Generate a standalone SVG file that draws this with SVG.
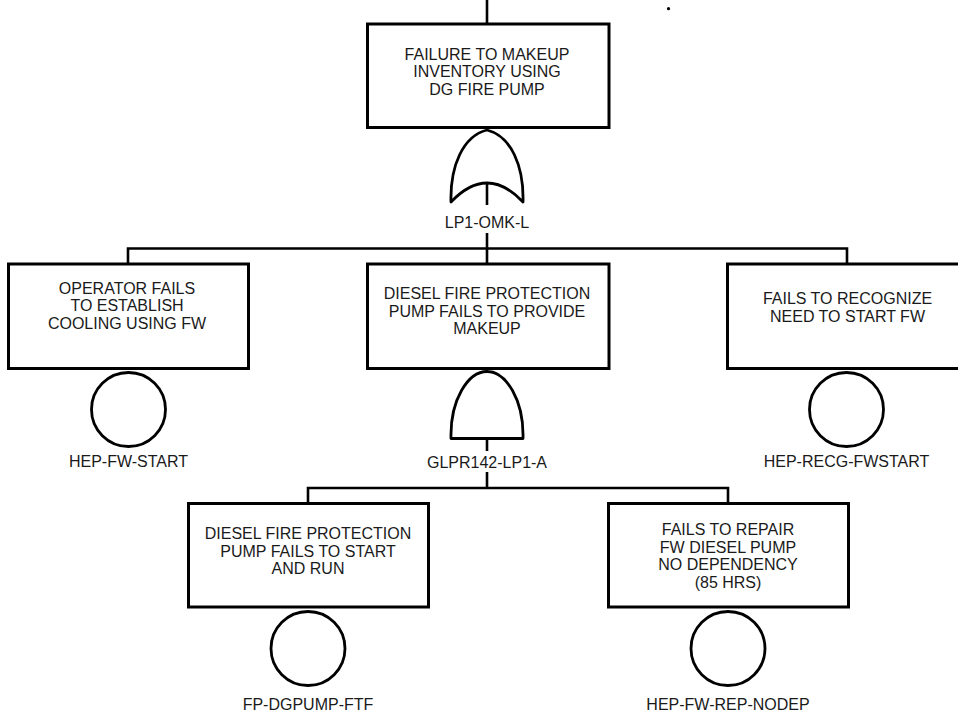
<svg xmlns="http://www.w3.org/2000/svg" width="958" height="712" viewBox="0 0 958 712">
<style>
.box{fill:#fff;stroke:#000;stroke-width:3}
.gate{fill:#fff;stroke:#000;stroke-width:2.8;stroke-linejoin:round}
.ev{fill:#fff;stroke:#000;stroke-width:2.8}
.wire{fill:none;stroke:#000;stroke-width:2.6}
text{font-family:"Liberation Sans",Arial,sans-serif;font-size:16px;fill:#1a1a1a;text-anchor:middle}
</style>
<rect width="958" height="712" fill="#fff"/>
<g id="connectors">
<line class="wire" x1="487" y1="0" x2="487" y2="24"/>
<line class="wire" x1="487" y1="184" x2="487" y2="205"/>
<line class="wire" x1="487" y1="233" x2="487" y2="264"/>
<polyline class="wire" points="128,264 128,248.5 847,248.5 847,264"/>
<line class="wire" x1="487" y1="438" x2="487" y2="451"/>
<line class="wire" x1="487" y1="472" x2="487" y2="488"/>
<polyline class="wire" points="308,503 308,488 728,488 728,503"/>
</g>
<g id="top">
<rect class="box" x="367.5" y="24" width="241.5" height="103.5"/>
<text x="487" y="59.5">FAILURE TO MAKEUP</text>
<text x="487" y="77">INVENTORY USING</text>
<text x="487" y="94.5">DG FIRE PUMP</text>
</g>
<g id="gate-or">
<path class="gate" d="M487,130 C463,136 450,166 451,202 Q487,164 523,202 C524,166 511,136 487,130 Z"/>
<text x="487" y="227.5">LP1-OMK-L</text>
</g>
<g id="left">
<rect class="box" x="8.5" y="264" width="240" height="104.5"/>
<text x="127" y="293.5">OPERATOR FAILS</text>
<text x="127" y="311">TO ESTABLISH</text>
<text x="127" y="328.5">COOLING USING FW</text>
<circle class="ev" cx="128.5" cy="409.5" r="37"/>
<text x="128.5" y="466.5">HEP-FW-START</text>
</g>
<g id="middle">
<rect class="box" x="367.5" y="264" width="241.5" height="104.5"/>
<text x="487" y="299">DIESEL FIRE PROTECTION</text>
<text x="487" y="316.5">PUMP FAILS TO PROVIDE</text>
<text x="487" y="334">MAKEUP</text>
</g>
<g id="gate-and">
<path class="gate" d="M451,438.5 C450,400 468,371.5 487,371.5 C506,371.5 524,400 523,438.5 Z"/>
<text x="487" y="467.5">GLPR142-LP1-A</text>
</g>
<g id="right">
<rect class="box" x="727.5" y="264" width="241" height="104.5"/>
<text x="847.5" y="304">FAILS TO RECOGNIZE</text>
<text x="847.5" y="321.5">NEED TO START FW</text>
<circle class="ev" cx="846.5" cy="409.5" r="37"/>
<text x="846.5" y="466.5">HEP-RECG-FWSTART</text>
</g>
<g id="bottom-left">
<rect class="box" x="188.5" y="503.5" width="240" height="103.5"/>
<text x="308" y="539">DIESEL FIRE PROTECTION</text>
<text x="308" y="556.5">PUMP FAILS TO START</text>
<text x="308" y="574">AND RUN</text>
<circle class="ev" cx="308" cy="648.5" r="37"/>
<text x="308" y="710">FP-DGPUMP-FTF</text>
</g>
<g id="bottom-right">
<rect class="box" x="608.5" y="503.5" width="240" height="103.5"/>
<text x="728" y="535">FAILS TO REPAIR</text>
<text x="728" y="552.5">FW DIESEL PUMP</text>
<text x="728" y="570">NO DEPENDENCY</text>
<text x="728" y="587.5">(85 HRS)</text>
<circle class="ev" cx="728" cy="648.5" r="37"/>
<text x="728" y="710">HEP-FW-REP-NODEP</text>
</g>
<circle cx="668.5" cy="8.7" r="1.6" fill="#000"/>
</svg>
